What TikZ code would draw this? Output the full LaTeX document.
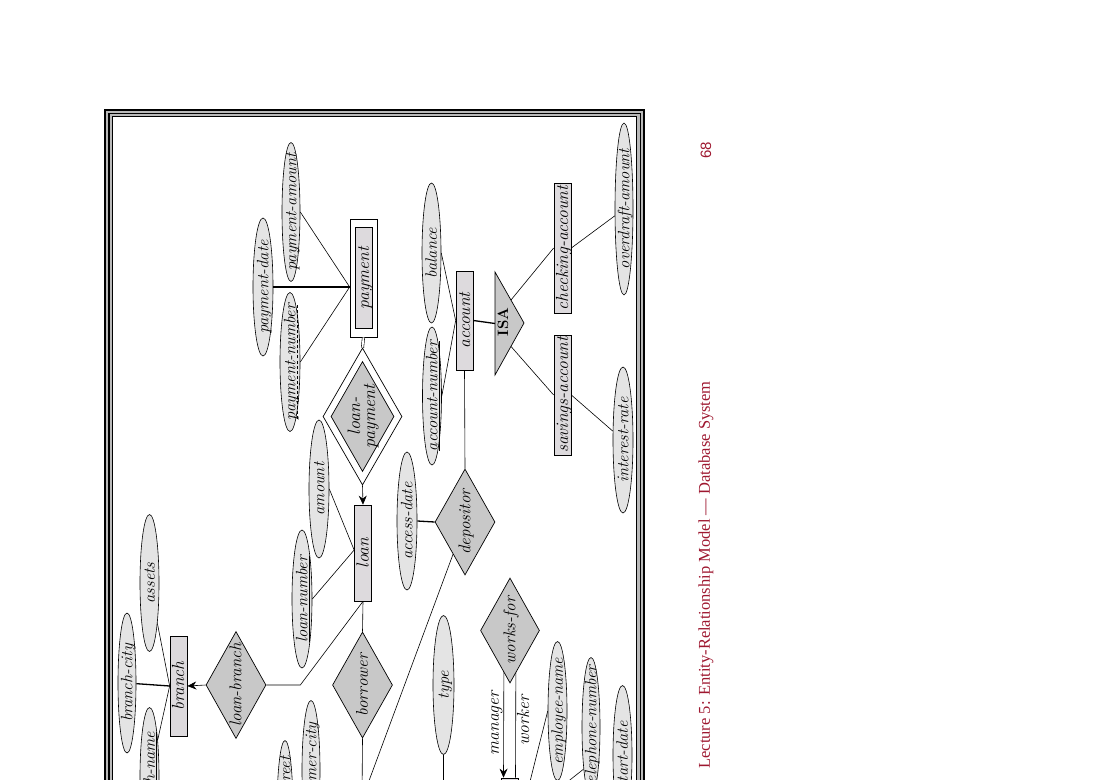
\documentclass[tikz,border=0pt]{standalone}
\usepackage{fontspec}
\usepackage{tikz}
\usetikzlibrary{shapes.geometric, arrows.meta, positioning, calc, backgrounds}
\newfontfamily\footserif{Liberation Serif}
\newfontfamily\footsans{Liberation Sans}
\definecolor{entgray}{RGB}{221,218,221}
\definecolor{relgray}{RGB}{200,200,200}
\definecolor{attgray}{RGB}{228,228,228}
\definecolor{footred}{RGB}{158,24,48}
\newcommand{\lbl}[1]{\makebox[0pt]{\raisebox{-.32em}[0pt][0pt]{#1}}}
\newsavebox{\dulbox}
\newcommand{\dul}[1]{\sbox{\dulbox}{#1}\rlap{\usebox{\dulbox}}\hbox to \wd\dulbox{\xleaders\hbox to 5pt{\hfil\vrule height -2pt depth 2.6pt width 3pt\hfil}\hfill}}

\begin{document}
\begin{tikzpicture}[x=1pt,y=-1pt,>={Stealth[length=9pt,width=8pt]},
    every node/.style={font=\fontsize{17.5}{19}\selectfont\itshape},
    ent/.style={rectangle,draw,fill=entgray,rotate=90,minimum height=17pt,inner sep=0pt,line width=.7pt},
    attrib/.style={ellipse,draw,fill=attgray,rotate=90,minimum width=139pt,minimum height=20pt,inner sep=0pt,line width=.6pt,
      font=\fontsize{16.5}{18}\selectfont\itshape},
    relship/.style={diamond,draw,fill=relgray,rotate=90,minimum width=106pt,minimum height=60pt,inner sep=0pt,line width=.7pt,
      font=\fontsize{17}{18}\selectfont\itshape},
    link/.style={line width=.6pt},
    heavy/.style={line width=1.3pt}]
  \useasboundingbox (0,0) rectangle (1100,779);
  \clip (0,0) rectangle (1100,779);

  % frame
  \draw[gray!55,line width=7pt] (108.7,113.5) rectangle (640.2,900);
  \draw[line width=2pt] (105,110) rectangle (644,900);
  \draw[line width=1.4pt] (109,113.7) rectangle (640.3,900);
  \draw[line width=.8pt] (112.5,116.8) rectangle (636.3,900);

  % entity sets
  \node[draw,fill=white,rotate=90,minimum width=118pt,minimum height=27pt,inner sep=0pt,line width=.7pt] (payment) at (363.5,278) {};
  \node[ent,minimum width=101pt] (payment-in) at (payment) {\lbl{payment}};
  \node[ent,minimum width=99pt] (account) at (464.5,320.5) {\lbl{account}};
  \node[ent,minimum width=96pt] (loan) at (363,553) {\lbl{loan}};
  \node[ent,minimum width=100pt] (branch) at (178.5,686) {\lbl{branch}};
  \node[ent,minimum width=130pt] (checking) at (562.5,248) {\lbl{checking-account}};
  \node[ent,minimum width=120pt] (savings) at (562.5,395) {\lbl{savings-account}};
  \node[ent,minimum width=100pt] (employee) at (509.5,828) {};
  \node[ent,minimum width=100pt] (customer) at (362,850) {};

  % relationship sets
  \node[relship,minimum width=137pt,minimum height=79pt,fill=white] (lpay-out) at (362.5,416.5) {};
  \node[relship,minimum width=110pt,minimum height=63pt,font=\fontsize{18}{19}\selectfont\itshape] (lpay) at (lpay-out)
    {\lbl{\begin{tabular}{@{}c@{}}loan-\\[-4pt]payment\end{tabular}}};
  \node[relship] (depositor) at (465,522) {\lbl{depositor}};
  \node[relship,minimum width=107pt] (lbranch) at (236,685) {\lbl{loan-branch}};
  \node[relship] (borrower) at (362.5,685) {\lbl{borrower}};
  \node[relship,minimum width=105pt,minimum height=59pt] (worksfor) at (510,630.5) {\lbl{works-for}};

  % ISA
  \draw[fill=relgray,line width=.7pt] (495,272) coordinate (isa-a) -- (524,323) coordinate (isa-c) -- (495,375) coordinate (isa-b) -- cycle;
  \node[rotate=90,font=\fontsize{15}{15}\selectfont\upshape\bfseries] (isa) at (503,322) {ISA};
  \coordinate (isa-base) at ($(isa-a)!.5!(isa-b)$);
  \coordinate (isa-up) at ($(isa-a)!.55!(isa-c)$);
  \coordinate (isa-lo) at ($(isa-b)!.55!(isa-c)$);

  % attributes
  \node[attrib,minimum height=18pt] (pamount) at (291,212) {\lbl{payment-amount}};
  \node[attrib,minimum width=138pt] (pdate) at (263,287) {\lbl{payment-date}};
  \node[attrib] (pnumber) at (290,362) {\lbl{\dul{payment-number}}};
  \node[attrib,minimum width=138pt] (amount) at (319,489) {\lbl{amount}};
  \node[attrib,minimum width=138pt] (loannum) at (302,599) {\lbl{\underline{loan-number}}};
  \node[attrib,minimum width=140pt,minimum height=19pt] (balance) at (431.5,253) {\lbl{balance}};
  \node[attrib,minimum width=138pt,minimum height=19pt] (accnum) at (432,396) {\lbl{\underline{account-number}}};
  \node[attrib,minimum width=138pt] (adate) at (407,521) {\lbl{access-date}};
  \node[attrib,minimum width=146pt] (irate) at (623,440) {\lbl{interest-rate}};
  \node[attrib,minimum width=172pt,minimum height=18pt] (odraft) at (624,209) {\lbl{overdraft-amount}};
  \node[attrib,minimum width=137pt,minimum height=19pt] (assets) at (149.5,583) {\lbl{assets}};
  \node[attrib,minimum width=140pt,minimum height=18pt] (bcity) at (127,683) {\lbl{branch-city}};
  \node[attrib,minimum height=19pt] (bname) at (149.5,777) {\lbl{\underline{branch-name}}};
  \node[attrib,minimum height=21pt] (type) at (443.5,685) {\lbl{type}};
  \node[attrib,minimum height=16pt] (cstreet) at (285,810) {\lbl{customer-street}};
  \node[attrib,minimum height=18pt] (ccity) at (311,770) {\lbl{customer-city}};
  \node[attrib,minimum height=19pt] (ename) at (557.5,711) {\lbl{employee-name}};
  \node[attrib,minimum height=18pt] (phone) at (591,727) {\lbl{telephone-number}};
  \node[attrib,minimum height=19pt] (sdate) at (622.5,755) {\lbl{start-date}};
  \coordinate (cbanker) at (443.5,800);

  % connectors
  \draw[link] (pamount.south) -- ([yshift=-9pt]payment.north);
  \draw[heavy] (pdate.south) -- ([yshift=-9pt]payment.north);
  \draw[link] (pnumber.south) -- ([yshift=-9pt]payment.north);
  \draw[link,double,double distance=1.8pt] (payment.west) -- (lpay-out.east);
  \draw[link,->] (lpay-out.west) -- (loan.east);
  \draw[link] (amount.south) -- ([yshift=3pt]loan.north);
  \draw[link] (loannum.south) -- ([yshift=3pt]loan.north);
  \draw[link] (loan.west) -- ([xshift=34pt]lbranch.south) -- (lbranch.south);
  \draw[link] (loan.west) -- (borrower.east);
  \draw[link] (borrower.west) -- (customer.east);
  \draw[link,->] (lbranch.north) -- (branch.south);
  \draw[heavy] (bcity) -- (branch.north);
  \draw[link] (assets) -- (branch.north);
  \draw[link] (bname) -- (branch.north);
  \draw[link] (balance.south) -- (account.north);
  \draw[link] (accnum.south) -- (account.north);
  \draw[heavy] (account.south) -- (isa-base);
  \draw[link] (isa-up) -- (checking.north);
  \draw[link] (isa-lo) -- (savings.north);
  \draw[link] (savings.south) -- (irate);
  \draw[link] (checking.south) -- (odraft);
  \draw[link] (account.west) -- (depositor.east);
  \draw[heavy] (adate.south) -- (depositor.north);
  \draw[link] (depositor) -- (customer.east);
  \draw[link] (type.west) -- (cbanker);
  \draw[link] (ename.north) -- (employee.south);
  \draw[link] (phone.170) -- (employee);
  \begin{scope}[on background layer]
    \draw[link,->] ([xshift=-6pt]worksfor.center) -- ([xshift=-6pt]employee.east)
      node[pos=.63,rotate=90,above,inner sep=1pt] {manager};
    \draw[link] ([xshift=6pt]worksfor.center) -- ([xshift=6pt]employee.east)
      node[pos=.61,rotate=90,below,inner sep=1pt] {worker};
  \end{scope}

  % page furniture
  \node[rotate=90,font=\footsans\fontsize{15}{15}\selectfont,text=footred] (pageno) at (706,150) {68};
  \node[rotate=90,font=\footserif\fontsize{16.5}{17}\selectfont,text=footred] (footer) at (706,575) {Lecture 5: Entity-Relationship Model — Database System};
\end{tikzpicture}
\end{document}
